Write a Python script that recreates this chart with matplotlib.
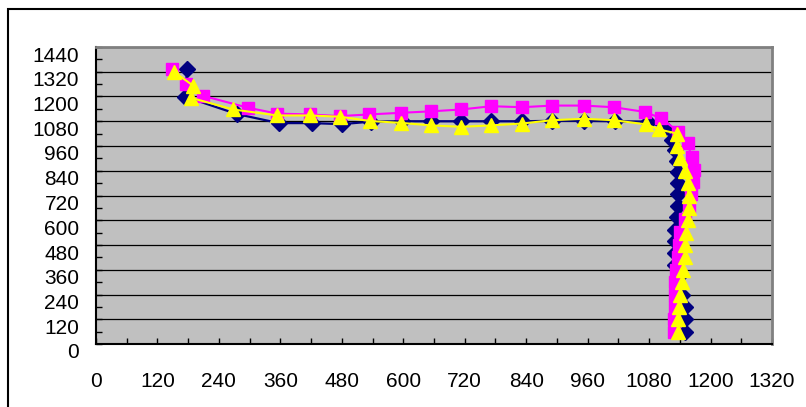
import matplotlib.pyplot as plt
import matplotlib.transforms as mtransforms
from matplotlib.patches import Rectangle
import numpy as np

plt.rcParams["font.family"] = "Liberation Sans"
plt.rcParams["font.size"] = 15

# navy diamonds
x_navy = [178, 174, 275, 357, 421, 480, 537, 597, 655, 713, 772, 832, 890, 953, 1013, 1078,
          1111, 1125, 1131, 1135, 1137, 1137, 1137, 1137, 1135, 1131, 1131, 1130, 1131,
          1138, 1145, 1150, 1150, 1150]
y_navy = [1333, 1199, 1115, 1071, 1071, 1066, 1078, 1080, 1080, 1080, 1080, 1080, 1082, 1082, 1080, 1078,
          1045, 990, 940, 885, 835, 780, 725, 670, 615, 555, 500, 440, 385,
          330, 240, 180, 120, 60]

# magenta squares
x_mag = [148, 176, 208, 296, 354, 417, 476, 533, 596, 654, 713, 772, 832, 890, 953, 1011, 1072,
         1103, 1137, 1155, 1163, 1167, 1165, 1162, 1158, 1150, 1140, 1138, 1136, 1133, 1131,
         1130, 1130, 1129, 1129]
y_mag = [1333, 1259, 1204, 1146, 1117, 1113, 1105, 1113, 1121, 1128, 1137, 1153, 1148, 1156, 1156, 1148, 1125,
         1095, 1030, 975, 908, 845, 785, 725, 665, 605, 545, 480, 420, 360, 300,
         240, 180, 120, 60]

# yellow triangles
x_yel = [152, 190, 185, 268, 354, 417, 476, 536, 596, 654, 713, 772, 832, 890, 953, 1011, 1074,
         1100, 1135, 1134, 1140, 1150, 1155, 1157, 1157, 1155, 1153, 1150, 1150, 1147, 1144,
         1140, 1138, 1137, 1136]
y_yel = [1320, 1252, 1194, 1137, 1108, 1108, 1102, 1081, 1072, 1060, 1053, 1060, 1069, 1085, 1092, 1085, 1065,
         1040, 1020, 960, 900, 840, 780, 720, 660, 600, 540, 480, 420, 360, 300,
         240, 180, 120, 60]

fig = plt.figure(figsize=(8.06, 4.07), dpi=100)
ax = fig.add_axes([96/806, 1-344/407, 676/806, 297/407])
ax.set_facecolor('#C0C0C0')

ax.plot(x_navy, y_navy, color='#000080', lw=1.6, marker='D', ms=8, mec='#000080', mfc='#000080', zorder=3)
ax.plot(x_mag, y_mag, color='#FF00FF', lw=1.5, marker='s', ms=8, mec='#FF00FF', mfc='#FF00FF', zorder=4)
ax.plot(x_yel, y_yel, color='#FFFF00', lw=1.5, marker='^', ms=10.5, mec='#FFFF00', mfc='#FFFF00', zorder=5)

ax.set_xlim(0, 1320)
ax.set_ylim(0, 1440)
ax.set_xticks(np.arange(0, 1321, 120))
ax.set_yticks(np.arange(0, 1441, 120))
ax.set_xticks(np.arange(0, 1321, 60), minor=True)
ax.set_yticks(np.arange(0, 1441, 60), minor=True)
ax.tick_params(which='both', direction='in', length=4, width=1, color='black')
ax.tick_params(axis='x', which='major', pad=20, labelsize=15)
ax.tick_params(axis='y', which='major', pad=12, labelsize=15)
ax.yaxis.grid(True, which='major', color='black', lw=0.9)
ax.set_axisbelow(True)

# y labels sit a little below their ticks
offset = mtransforms.ScaledTranslation(0, -7/100, fig.dpi_scale_trans)
for lbl in ax.get_yticklabels():
    lbl.set_transform(lbl.get_transform() + offset)

for s in ['left', 'bottom']:
    ax.spines[s].set_color('black')
    ax.spines[s].set_linewidth(1.5)
for s in ['top', 'right']:
    ax.spines[s].set_color('#808080')
    ax.spines[s].set_linewidth(2)

fig.patches.append(Rectangle((8/806, -0.1), 1.2, 1.1 - 9/407, transform=fig.transFigure,
                             fill=False, ec='black', lw=1.5))

fig.savefig('out.png', dpi=100)
